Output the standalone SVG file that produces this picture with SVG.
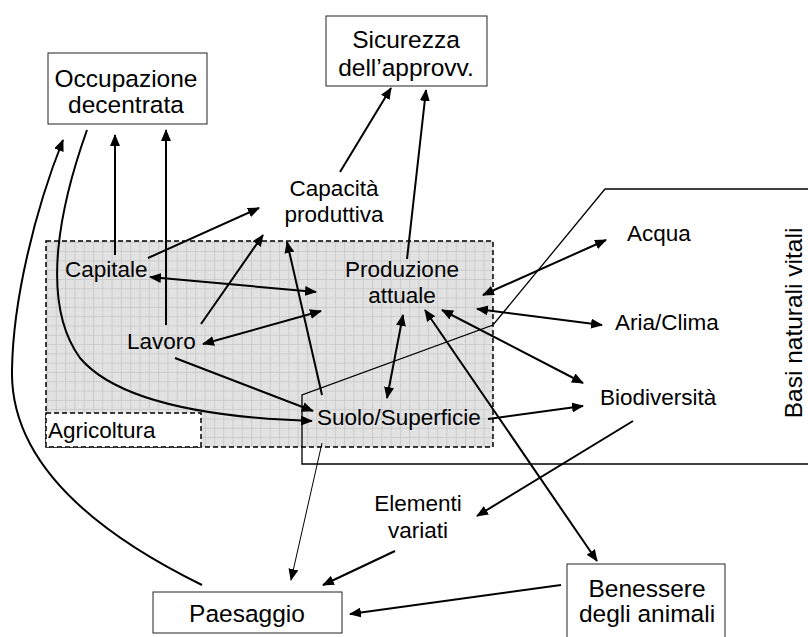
<svg xmlns="http://www.w3.org/2000/svg" width="808" height="637" viewBox="0 0 808 637">
<style>
text{font-family:"Liberation Sans",Arial,sans-serif;fill:#000}
.f{font-size:22.5px}
.b{font-size:24.5px}
.box{fill:#fff;stroke:#222;stroke-width:1}
.c{fill:none;stroke:#000;stroke-width:2}
.thin{fill:none;stroke:#000;stroke-width:1}
.a{marker-end:url(#ah)}
.d{marker-start:url(#ah);marker-end:url(#ah)}
</style>
<defs>
<marker id="ah" viewBox="0 0 12 10" refX="11" refY="5" markerWidth="12" markerHeight="10" markerUnits="userSpaceOnUse" orient="auto-start-reverse">
<path d="M0,0 L12,5 L0,10 z" fill="#000"/>
</marker>
<pattern id="grid" width="9.3" height="9.3" patternUnits="userSpaceOnUse">
<rect width="9.3" height="9.3" fill="#e2e2e2"/>
<path d="M0,0.5 H9.3 M0.5,0 V9.3" stroke="#cbcbcb" stroke-width="1"/>
</pattern>
</defs>
<rect width="808" height="637" fill="#fff"/>

<g id="agricoltura">
<rect x="46" y="241" width="447" height="206" fill="url(#grid)" stroke="#000" stroke-width="1.5" stroke-dasharray="5,3"/>
<rect x="46" y="413" width="155" height="34" fill="#fff" stroke="#000" stroke-width="1.5" stroke-dasharray="5,3"/>
<text class="f" x="48" y="438">Agricoltura</text>
</g>

<g id="basi-naturali">
<polyline points="808,189 605,189 493,325 302,395 302,464 808,464" fill="none" stroke="#000" stroke-width="1.3"/>
<text class="b" transform="translate(802,323) rotate(-90)" text-anchor="middle">Basi naturali vitali</text>
</g>

<g id="occupazione">
<rect class="box" x="48" y="53" width="159" height="71"/>
<text class="b" x="126" y="87" text-anchor="middle">Occupazione</text>
<text class="b" x="126" y="113" text-anchor="middle">decentrata</text>
</g>

<g id="sicurezza">
<rect class="box" x="326" y="16" width="161" height="70"/>
<text class="b" x="406" y="48" text-anchor="middle">Sicurezza</text>
<text class="b" x="406" y="76" text-anchor="middle">dell’approvv.</text>
</g>

<g id="capacita">
<text class="f" x="334" y="196" text-anchor="middle">Capacità</text>
<text class="f" x="334" y="222" text-anchor="middle">produttiva</text>
</g>

<g id="produzione">
<text class="f" x="402" y="277" text-anchor="middle">Produzione</text>
<text class="f" x="402" y="303" text-anchor="middle">attuale</text>
</g>

<g id="capitale"><text class="f" x="65" y="277">Capitale</text></g>
<g id="lavoro"><text class="f" x="127" y="349">Lavoro</text></g>
<g id="suolo"><text class="f" x="317" y="425">Suolo/Superficie</text></g>
<g id="acqua"><text class="f" x="627" y="241">Acqua</text></g>
<g id="aria"><text class="f" x="615" y="330">Aria/Clima</text></g>
<g id="biodiversita"><text class="f" x="600" y="405">Biodiversità</text></g>

<g id="elementi">
<text class="f" x="418" y="511" text-anchor="middle">Elementi</text>
<text class="f" x="418" y="538" text-anchor="middle">variati</text>
</g>

<g id="paesaggio">
<rect class="box" x="153" y="592" width="189" height="41"/>
<text class="b" x="247" y="622" text-anchor="middle">Paesaggio</text>
</g>

<g id="benessere">
<rect class="box" x="567" y="564" width="158" height="80"/>
<text class="b" x="647" y="597" text-anchor="middle">Benessere</text>
<text class="b" x="647" y="622" text-anchor="middle">degli animali</text>
</g>

<g id="connectors">
<line class="c a" x1="115" y1="255" x2="115" y2="135"/>
<line class="c a" x1="166" y1="325" x2="166" y2="130"/>
<path class="c a" d="M87,130 C62,200 38,300 80,358 C120,405 220,418 312,421"/>
<path class="c a" d="M202,585 C90,530 10,460 12,370 C13,300 35,210 63,140"/>
<line class="c a" x1="148" y1="258" x2="259" y2="208"/>
<line class="c a" x1="201" y1="324" x2="263" y2="235"/>
<line class="c a" x1="322" y1="395" x2="287" y2="242"/>
<line class="c d" x1="150" y1="277" x2="316" y2="292"/>
<line class="c d" x1="203" y1="344" x2="321" y2="311"/>
<line class="c a" x1="175" y1="358" x2="313" y2="411"/>
<line class="c a" x1="340" y1="172" x2="391" y2="88"/>
<line class="c a" x1="407" y1="259" x2="426" y2="90"/>
<line class="c d" x1="403" y1="315" x2="387" y2="398"/>
<line class="c d" x1="483" y1="295" x2="606" y2="240"/>
<line class="c d" x1="477" y1="309" x2="602" y2="325"/>
<line class="c d" x1="442" y1="310" x2="583" y2="383"/>
<line class="c a" x1="488" y1="419" x2="583" y2="406"/>
<line class="c d" x1="425" y1="310" x2="597" y2="561"/>
<line class="c a" x1="633" y1="421" x2="477" y2="516"/>
<line class="thin a" x1="322" y1="443" x2="291" y2="580"/>
<line class="c a" x1="395" y1="551" x2="323" y2="585"/>
<line class="c a" x1="561" y1="585" x2="350" y2="614"/>
</g>
</svg>
